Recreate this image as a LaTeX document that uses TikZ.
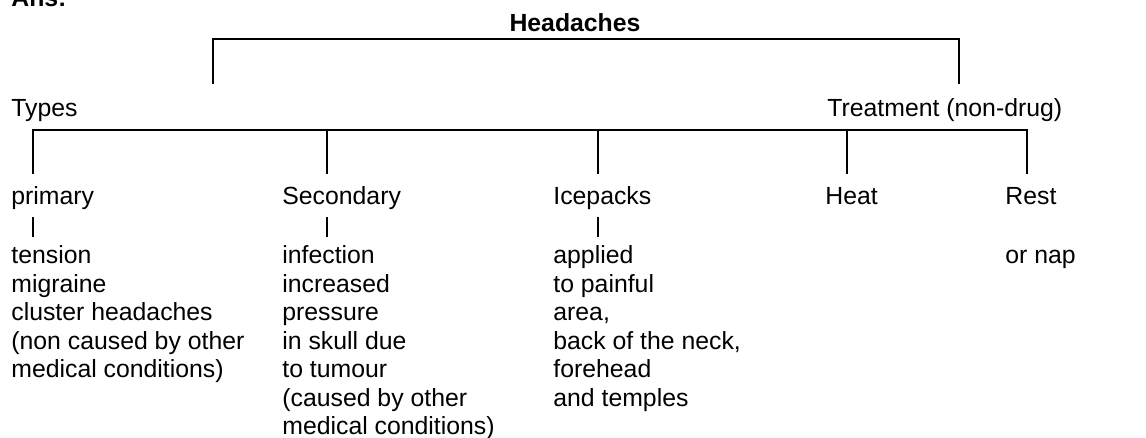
\documentclass[tikz,border=0pt]{standalone}
\usepackage{fontspec}
\setmainfont{Liberation Sans}
\usepackage{tikz}
\usetikzlibrary{positioning}

\newcommand{\hdlist}[1]{\begin{tabular}[t]{@{}l@{}}#1\end{tabular}}

\tikzset{
	txt/.style={anchor=base west, inner sep=0pt, font=\fontsize{12.4}{14.25}\selectfont},
	bar/.style={line width=0.75pt}
}

\begin{document}
\begin{tikzpicture}[x=0.5pt,y=-0.5pt]
\useasboundingbox (0,0) rectangle (1146,438);

	%Define the heights (in pixels, counted downwards)
	%top bar, second bar, label baselines and the first list line
	\pgfmathsetmacro{\ya}{39}
	\pgfmathsetmacro{\yb}{84}
	\pgfmathsetmacro{\yc}{130}
	\pgfmathsetmacro{\yd}{174}
	\pgfmathsetmacro{\ytwo}{205}
	\pgfmathsetmacro{\ylist}{264}

	%Title and the two branches
	\draw node[txt, font=\fontsize{12.4}{14.25}\selectfont\bfseries] (ans) at (11,7) {Ans:};
	\draw node[txt, anchor=base, font=\fontsize{12.4}{14.25}\selectfont\bfseries] (head) at (575,32) {Headaches};
	\draw node[txt] (types) at (11,117) {Types};
	\draw node[txt] (treat) at (827,117) {Treatment (non-drug)};

	%Top bar
	\coordinate (barL) at (213,\ya);
	\coordinate (barR) at (959,\ya);
	\coordinate (typesTop) at (213,\yb);
	\coordinate (treatTop) at (959,\yb);
	\draw[bar] (typesTop) -- (barL) -- (barR) -- (treatTop);

	%Second level labels
	\draw node[txt] (prim) at (11,\ytwo) {primary};
	\draw node[txt] (sec) at (282,\ytwo) {Secondary};
	\draw node[txt] (ice) at (553,\ytwo) {Icepacks};
	\draw node[txt] (heat) at (825,\ytwo) {Heat};
	\draw node[txt] (rest) at (1005,\ytwo) {Rest};

	%Second bar with its drops
	\coordinate (bar2L) at (33,\yc);
	\coordinate (bar2R) at (1027,\yc);
	\coordinate (primTop) at (33,\yd);
	\coordinate (restTop) at (1027,\yd);
	\draw[bar] (primTop) -- (bar2L) -- (bar2R) -- (restTop);
	\foreach \n/\x in {sec/327, ice/598, heat/847}
		\draw[bar] (\x,\yc) coordinate (\n Bar) -- (\x,\yd) coordinate (\n Top);

	%Lists (tabular[t] keeps the first line on the baseline)
	\draw node[txt] (primlist) at (11,\ylist) {\hdlist{tension\\migraine\\cluster headaches\\(non caused by other\\medical conditions)}};
	\draw node[txt] (seclist) at (282,\ylist) {\hdlist{infection\\increased\\pressure\\in skull due\\to tumour\\(caused by other\\medical conditions)}};
	\draw node[txt] (icelist) at (553,\ylist) {\hdlist{applied\\to painful\\area,\\back of the neck,\\forehead\\and temples}};
	\draw node[txt] (restlist) at (1005,\ylist) {or nap};

	%Short drops from a label to its list
	\foreach \n/\x in {prim/33, sec/327, ice/598}
		\draw[bar] (\x,217) coordinate (\n Low) -- (\x,237) coordinate (\n List);

\end{tikzpicture}
\end{document}
